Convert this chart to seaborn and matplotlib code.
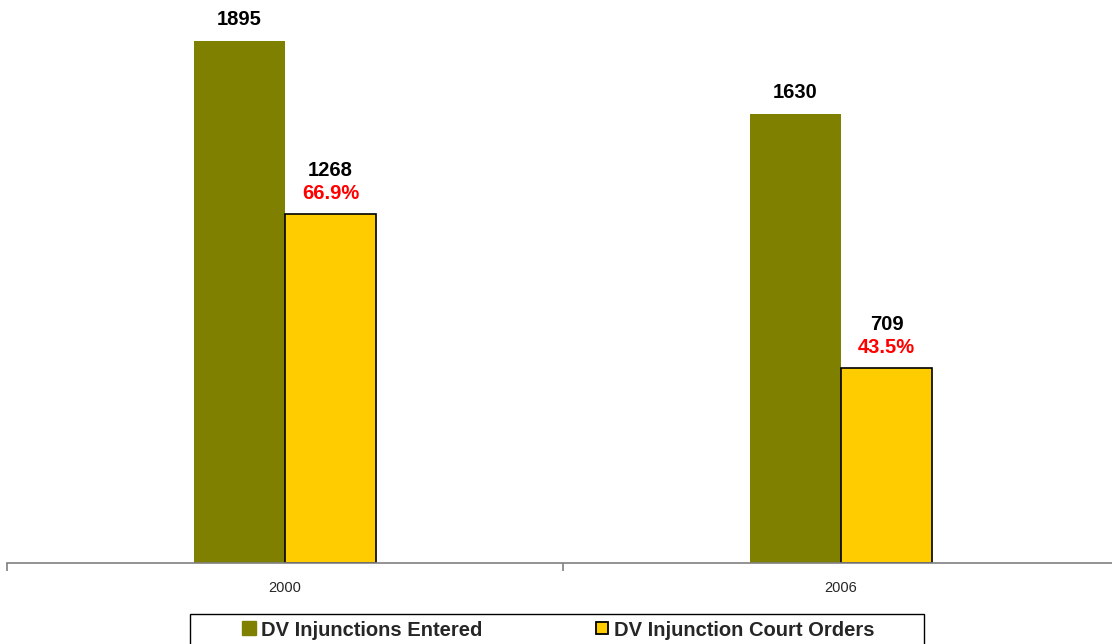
import matplotlib
matplotlib.use("Agg")
import matplotlib.pyplot as plt
import pandas as pd
import seaborn as sns
from matplotlib.lines import Line2D
from matplotlib.patches import Rectangle

years = ["2000", "2006"]
entered = [1895, 1630]
court_orders = [1268, 709]
pct_labels = ["66.9%", "43.5%"]
series_names = ["DV Injunctions Entered", "DV Injunction Court Orders"]
series_colors = ["#808000", "#FFCC00"]

df = pd.DataFrame({
    "Year": years * 2,
    "Count": entered + court_orders,
    "Series": [series_names[0]] * 2 + [series_names[1]] * 2,
})

sns.set_style("white")
plt.rcParams["font.family"] = ["Liberation Sans", "DejaVu Sans"]

W, H = 1112, 644
fig = plt.figure(figsize=(W / 100, H / 100), dpi=100)
ax = fig.add_axes([7 / W, 81 / H, 1112 / W, 551 / H])

sns.barplot(data=df, x="Year", y="Count", hue="Series", order=years,
            hue_order=series_names, palette=series_colors, width=0.327,
            saturation=1, legend=False, ax=ax)

# edges: only the yellow bars are outlined
for p in ax.patches:
    fc = p.get_facecolor()
    if fc[1] > 0.7:
        p.set_edgecolor("black")
        p.set_linewidth(1.2)
    else:
        p.set_edgecolor("none")

ax.set_xlim(-0.5, 1.5)
ax.set_ylim(0, 2000)
ax.set_xlabel("")
ax.set_ylabel("")
ax.set_yticks([])
for s in ["top", "right", "left"]:
    ax.spines[s].set_visible(False)
ax.spines["bottom"].set_color("#808080")
ax.spines["bottom"].set_linewidth(1.2)

ax.set_xticks([0, 1])
ax.set_xticklabels(years, fontsize=10.5)
ax.tick_params(axis="x", which="major", length=0, pad=13)
ax.set_xticks([-0.5, 0.5, 1.5], minor=True)
ax.tick_params(axis="x", which="minor", bottom=True, length=6, width=1.2,
               color="#808080", direction="out")

# value labels
for p in ax.patches:
    h = p.get_height()
    if h <= 0:
        continue
    cx = p.get_x() + p.get_width() / 2
    if h in court_orders:
        i = court_orders.index(h)
        ax.annotate(pct_labels[i], (cx, h), xytext=(0, 20), textcoords="offset pixels",
                    ha="center", va="center", fontsize=14.5, fontweight="bold",
                    color="red", annotation_clip=False)
        ax.annotate(f"{int(h)}", (cx, h), xytext=(0, 43), textcoords="offset pixels",
                    ha="center", va="center", fontsize=14.5, fontweight="bold",
                    color="black", annotation_clip=False)
    else:
        ax.annotate(f"{int(h)}", (cx, h), xytext=(0, 21), textcoords="offset pixels",
                    ha="center", va="center", fontsize=14.5, fontweight="bold",
                    color="black", annotation_clip=False)

handles = [
    Line2D([], [], marker="s", linestyle="none", markersize=9.4,
           markerfacecolor=series_colors[0], markeredgecolor=series_colors[0]),
    Line2D([], [], marker="s", linestyle="none", markersize=9.0,
           markerfacecolor=series_colors[1], markeredgecolor="black",
           markeredgewidth=1.3),
]
leg = fig.legend(handles, series_names, loc="center",
                 bbox_to_anchor=(558.5 / W, 1 - 630 / H), ncol=2,
                 frameon=False, prop={"size": 14.5, "weight": "bold"},
                 handlelength=0.65, handletextpad=0.3, columnspacing=5.6,
                 borderpad=0, borderaxespad=0)

# legend box as in the original (wider than the entries)
fig.patches.append(Rectangle((190 / W, -0.01), (924 - 190) / W, 1 - 614 / H + 0.01,
                             transform=fig.transFigure, fill=False,
                             edgecolor="black", linewidth=1, zorder=0))

fig.savefig("out.png", dpi=100)
